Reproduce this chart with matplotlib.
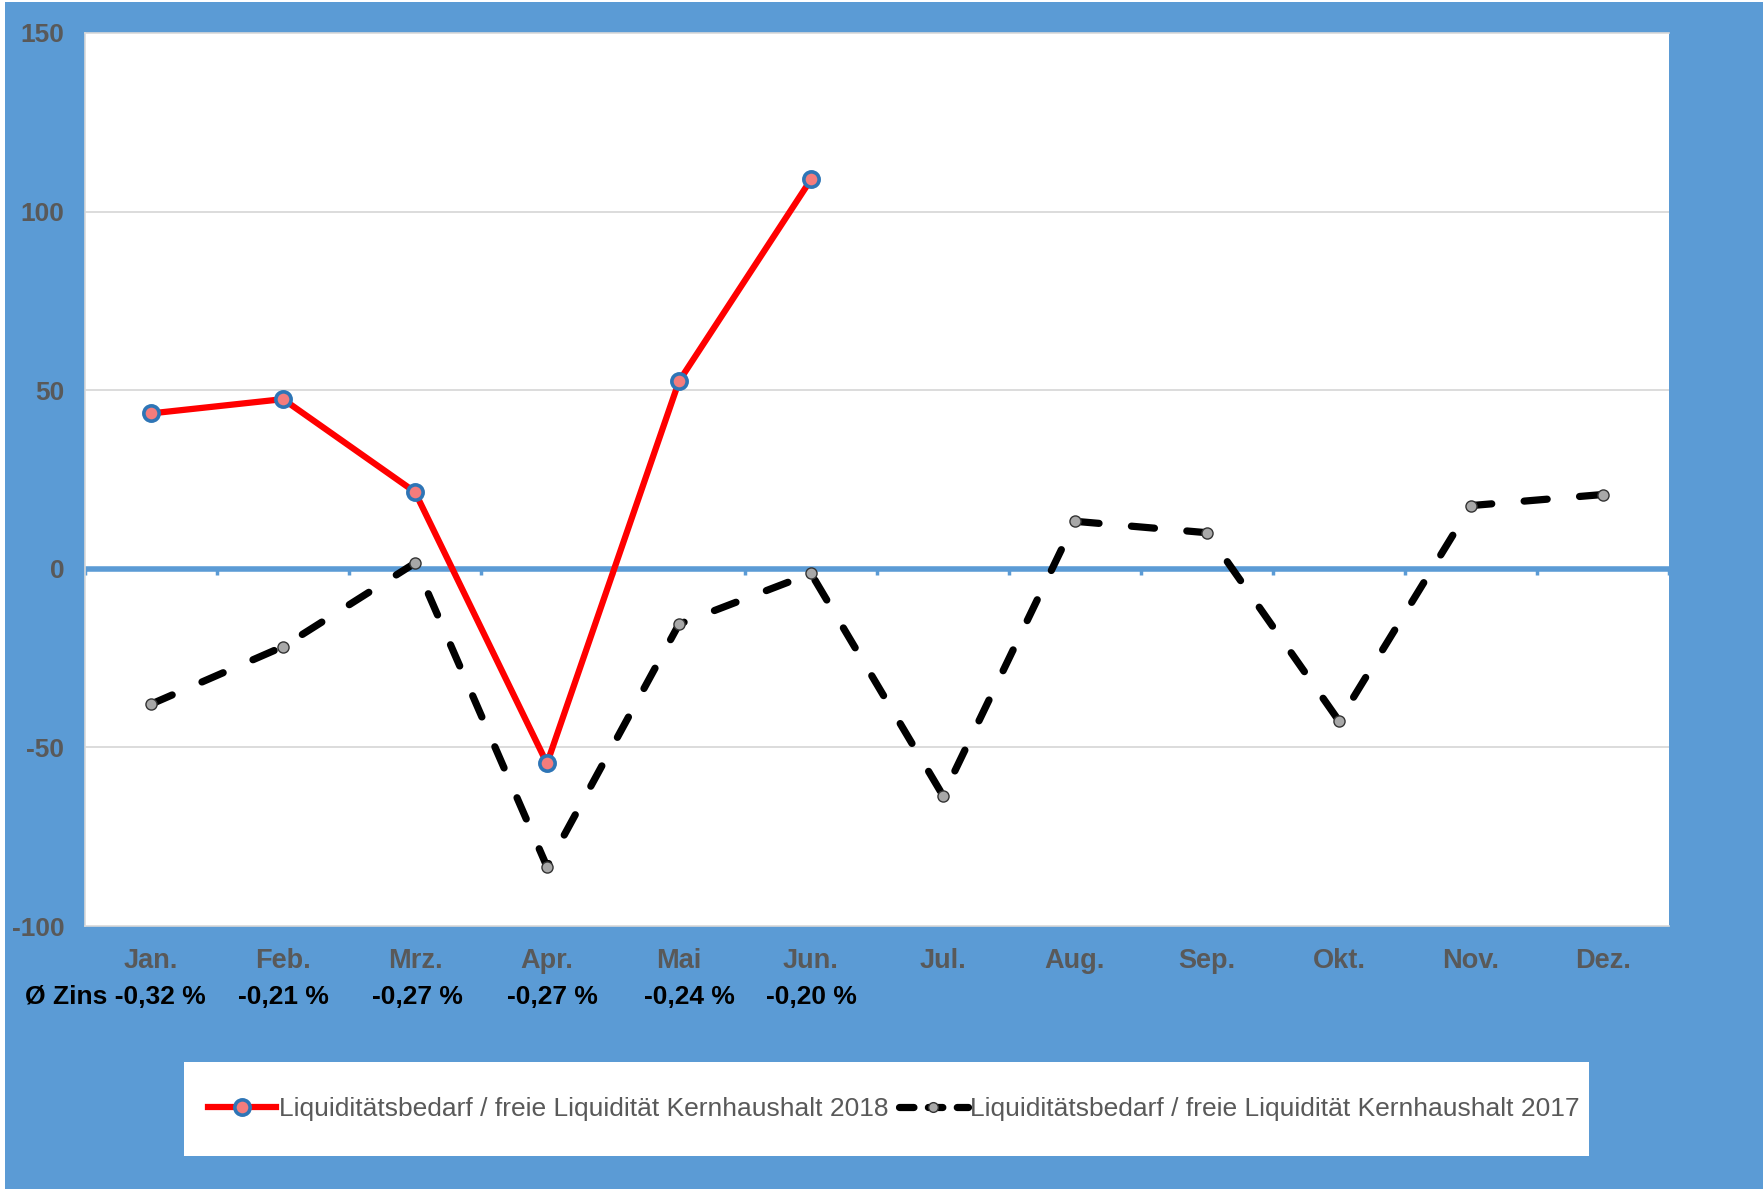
import matplotlib
matplotlib.use("Agg")
import matplotlib.pyplot as plt
from matplotlib.lines import Line2D
from matplotlib.patches import Rectangle
from matplotlib import font_manager

months = ["Jan.", "Feb.", "Mrz.", "Apr.", "Mai", "Jun.", "Jul.", "Aug.", "Sep.", "Okt.", "Nov.", "Dez."]
values_2018 = [43.5, 47.5, 21.5, -54.5, 52.5, 109.0]
values_2017 = [-37.9, -21.8, 1.6, -83.4, -15.5, -1.3, -63.5, 13.3, 10.1, -42.6, 17.7, 20.8]
zins_labels = ["Ø Zins -0,32 %", "-0,21 %", "-0,27 %", "-0,27 %", "-0,24 %", "-0,20 %"]
yticks = [-100, -50, 0, 50, 100, 150]
label_2018 = "Liquiditätsbedarf / freie Liquidität Kernhaushalt 2018"
label_2017 = "Liquiditätsbedarf / freie Liquidität Kernhaushalt 2017"

names = {f.name for f in font_manager.fontManager.ttflist}
narrow = "Liberation Sans Narrow" if "Liberation Sans Narrow" in names else "Liberation Sans"

BLUE = "#5B9BD5"
GRAY = "#595959"
W, H = 1763, 1189

fig = plt.figure(figsize=(W / 100, H / 100), dpi=100, facecolor="white")
fig.patches.append(Rectangle((5 / W, 0), 1 - 5 / W, 1 - 2 / H, transform=fig.transFigure,
                             facecolor=BLUE, edgecolor="none", zorder=-10))
# legend box
fig.patches.append(Rectangle((184 / W, 1 - 1156 / H), (1589 - 184) / W, (1156 - 1062) / H,
                             transform=fig.transFigure, facecolor="white", edgecolor="none", zorder=-5))

ax = fig.add_axes([85 / W, 1 - 926 / H, (1669 - 85) / W, (926 - 33) / H])
ax.set_zorder(5)
ax.set_facecolor("white")
x_all = list(range(len(months)))
x18 = list(range(len(values_2018)))

ax.set_xlim(-0.5, len(months) - 0.5)
ax.set_ylim(-100, 150)
for y in [50, 100, -50]:
    ax.axhline(y, color="#D9D9D9", lw=1.3, zorder=1)
ax.axhline(0, color=BLUE, lw=4.0, zorder=2)
bounds = [i + 0.5 for i in range(-1, len(months))]
ax.vlines(bounds, -1.8, 0, color=BLUE, lw=2.5, zorder=2)

ax.plot(x_all, values_2017, color="black", lw=5.2, linestyle=(0, (3.2, 4.5)),
        dash_capstyle="round", solid_capstyle="round", zorder=3,
        marker="o", markersize=8, markerfacecolor="#A8A8A8", markeredgecolor="#333333",
        markeredgewidth=1.0)
ax.plot(x18, values_2018, color="#FF0000", lw=4.5, zorder=4, solid_capstyle="round",
        marker="o", markersize=11, markerfacecolor="#F47C7C", markeredgecolor="#2E75B6",
        markeredgewidth=2.6)

for s in ax.spines.values():
    s.set_color("#D9D9D9")
    s.set_linewidth(1.2)
ax.spines["right"].set_visible(False)

ax.set_yticks(yticks)
ax.set_yticklabels([str(v) for v in yticks], fontsize=19, fontweight="bold", color=GRAY,
                   family="Liberation Sans")
ax.tick_params(axis="y", length=0, pad=15)
ax.set_xticks(x_all)
ax.set_xticklabels(months, fontsize=19.5, fontweight="bold", color=GRAY, family=narrow)
ax.tick_params(axis="x", length=0, pad=16)

# interest labels
trans = ax.get_xaxis_transform()
offsets = [0, 0, 0.02, 0.04, 0.08, 0]
for i, (lab, off) in enumerate(zip(zins_labels, offsets)):
    if i == 0:
        fig.text(25 / W, 1 - 997 / H, lab, ha="left", va="center", fontsize=19,
                 fontweight="bold", color="black", family=narrow, zorder=6)
    else:
        ax.text(i + off, -0.08, lab, transform=trans, ha="center", va="center", fontsize=19,
                fontweight="bold", color="black", family=narrow, clip_on=False)

h1 = Line2D([], [], color="#FF0000", lw=4.5, marker="o", markersize=11,
            markerfacecolor="#F47C7C", markeredgecolor="#2E75B6", markeredgewidth=2.6)
h2 = Line2D([], [], color="black", lw=5.2, linestyle=(0, (2.0, 2.0)), dash_capstyle="round",
            marker="o", markersize=7, markerfacecolor="#A8A8A8", markeredgecolor="#333333",
            markeredgewidth=1.0)
leg = fig.legend([h1, h2], [label_2018, label_2017], loc="center left",
                 bbox_to_anchor=(184 / W, 1 - 1109 / H), ncol=2, frameon=False,
                 handlelength=2.6, handletextpad=0.1, columnspacing=0.4,
                 prop={"family": narrow, "size": 19})
leg.set_zorder(6)
for t in leg.get_texts():
    t.set_color(GRAY)

fig.savefig("out.png", dpi=100, facecolor=fig.get_facecolor())
